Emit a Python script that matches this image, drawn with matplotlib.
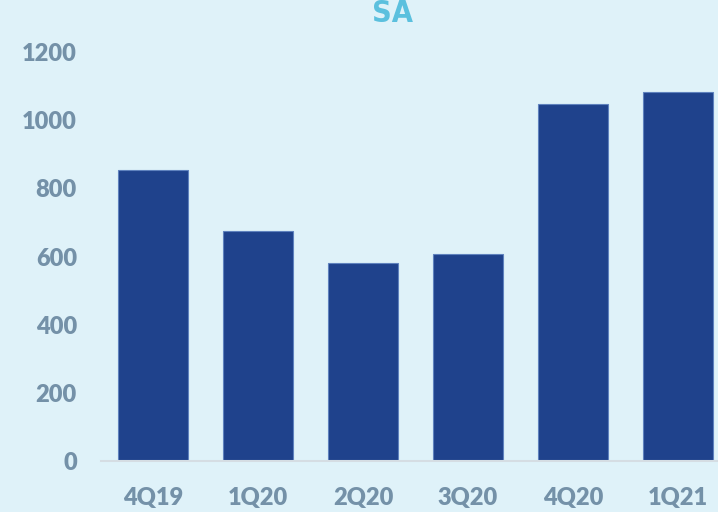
import matplotlib
matplotlib.use("Agg")
import matplotlib.pyplot as plt

categories = ["4Q19", "1Q20", "2Q20", "3Q20", "4Q20", "1Q21"]
values = [853, 674, 581, 607, 1047, 1082]
yticks = [0, 200, 400, 600, 800, 1000, 1200]
title = "SA"

bg = "#DFF2F9"
bar_color = "#1F428C"
label_color = "#7491A8"

fig = plt.figure(figsize=(7.18, 5.12), dpi=100, facecolor=bg)
W, H = 718, 512
left, right = 100.5, 730.5
bottom, top = 461, 52
ax = fig.add_axes([left / W, (H - bottom) / H, (right - left) / W, (bottom - top) / H])
ax.set_facecolor(bg)

x = range(len(categories))
ax.bar(x, values, width=0.667, color=bar_color, edgecolor="#5F82BE", linewidth=0.8)
ax.set_xlim(-0.5, len(categories) - 0.5)
ax.set_ylim(0, 1200)
ax.set_yticks(yticks)
ax.set_yticklabels([str(v) for v in yticks])
ax.set_xticks(list(x))
ax.set_xticklabels(categories)

for s in ["top", "right", "left"]:
    ax.spines[s].set_visible(False)
ax.spines["bottom"].set_color("#D5DDE3")
ax.spines["bottom"].set_linewidth(1.5)
ax.tick_params(axis="both", length=0, colors=label_color, labelsize=17)
ax.tick_params(axis="y", pad=17)
ax.tick_params(axis="x", pad=19)
for lab in ax.get_xticklabels() + ax.get_yticklabels():
    lab.set_fontweight("heavy")
    lab.set_fontfamily("Lato")
for lab in ax.get_yticklabels():
    lab.set_horizontalalignment("right")

fig.text(393 / W, 1 - 13 / H, title, ha="center", va="center", color="#5BC0DE",
         fontsize=22, fontweight="bold", family="DejaVu Sans", fontstretch="condensed")

fig.savefig("out.png", dpi=100, facecolor=bg)
